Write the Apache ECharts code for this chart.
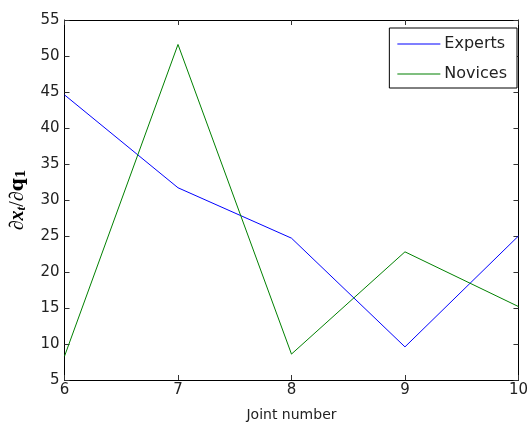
<!DOCTYPE html>
<html><head><meta charset="utf-8">
<script src="https://cdn.jsdelivr.net/npm/echarts@6/dist/echarts.min.js"></script>
<style>html,body{margin:0;padding:0;background:#fff}#c{width:531px;height:428px}</style>
</head><body><div id="c"></div>
<script>
const joints = [6, 7, 8, 9, 10];
const experts = [44.6, 31.7, 24.7, 9.6, 25.0];
const novices = [8.3, 51.6, 8.6, 22.8, 15.2];
const xTicks = [6, 7, 8, 9, 10];
const yTicks = [5, 10, 15, 20, 25, 30, 35, 40, 45, 50, 55];

const font = 'DejaVu Sans';
const chart = echarts.init(document.getElementById('c'), null, {renderer: 'canvas'});
const axisLine = {show: true, lineStyle: {color: '#000', width: 1}};
const tickIn = {show: true, inside: true, length: 5, lineStyle: {color: '#333'}};
chart.setOption({
  animation: false,
  backgroundColor: '#fff',
  grid: {left: 63, right: 8, top: 20, bottom: 48, containLabel: false},
  xAxis: [{
    type: 'value', min: xTicks[0], max: xTicks[xTicks.length - 1], interval: 1,
    axisLine, axisTick: tickIn, splitLine: {show: false},
    axisLabel: {color: '#222', fontFamily: font, fontSize: 15, margin: 3},
    name: 'Joint number', nameLocation: 'middle', nameGap: 28,
    nameTextStyle: {color: '#222', fontFamily: font, fontSize: 14}
  }, {
    type: 'value', position: 'top', min: xTicks[0], max: xTicks[xTicks.length - 1], interval: 1,
    axisLine, axisTick: tickIn, axisLabel: {show: false}, splitLine: {show: false}
  }],
  yAxis: [{
    type: 'value', min: yTicks[0], max: yTicks[yTicks.length - 1], interval: 5,
    axisLine, axisTick: tickIn, splitLine: {show: false},
    axisLabel: {color: '#222', fontFamily: font, fontSize: 15, margin: 5},
    name: '{d|∂}{x|x}{t|t}{d|/∂}{q|q}{s|1}', nameLocation: 'middle', nameGap: 36, nameRotate: 90,
    nameTextStyle: {
      color: '#000',
      rich: {
        d: {fontFamily: 'Liberation Serif', fontSize: 20, color: '#000'},
        x: {fontFamily: 'Liberation Serif', fontStyle: 'italic', fontWeight: 'bold', fontSize: 20, color: '#000'},
        t: {fontFamily: 'Liberation Serif', fontStyle: 'italic', fontWeight: 'bold', fontSize: 13, color: '#000', padding: [8, 0, 0, 0]},
        q: {fontFamily: 'DejaVu Serif', fontWeight: 'bold', fontSize: 19, color: '#000'},
        s: {fontFamily: 'DejaVu Serif', fontWeight: 'bold', fontSize: 12, color: '#000', padding: [8, 0, 0, 0]}
      }
    }
  }, {
    type: 'value', position: 'right', min: yTicks[0], max: yTicks[yTicks.length - 1], interval: 5,
    axisLine, axisTick: tickIn, axisLabel: {show: false}, splitLine: {show: false}
  }],
  legend: {
    right: 14, top: 28, orient: 'vertical',
    backgroundColor: '#fff', borderColor: '#000', borderWidth: 1,
    padding: [8, 10, 6, 8], itemGap: 14, itemWidth: 43, itemHeight: 14,
    textStyle: {color: '#222', fontFamily: font, fontSize: 16, padding: [0, 0, 0, -1]},
    data: [
      {name: 'Experts', icon: 'path://M0,0L43,0L43,1L0,1Z'},
      {name: 'Novices', icon: 'path://M0,0L43,0L43,1L0,1Z'}
    ]
  },
  series: [{
    name: 'Experts', type: 'line', symbol: 'none',
    data: joints.map((j, i) => [j, experts[i]]),
    lineStyle: {color: '#0000ff', width: 1}, itemStyle: {color: '#0000ff'}
  }, {
    name: 'Novices', type: 'line', symbol: 'none',
    data: joints.map((j, i) => [j, novices[i]]),
    lineStyle: {color: '#008000', width: 1}, itemStyle: {color: '#008000'}
  }]
});
</script></body></html>
